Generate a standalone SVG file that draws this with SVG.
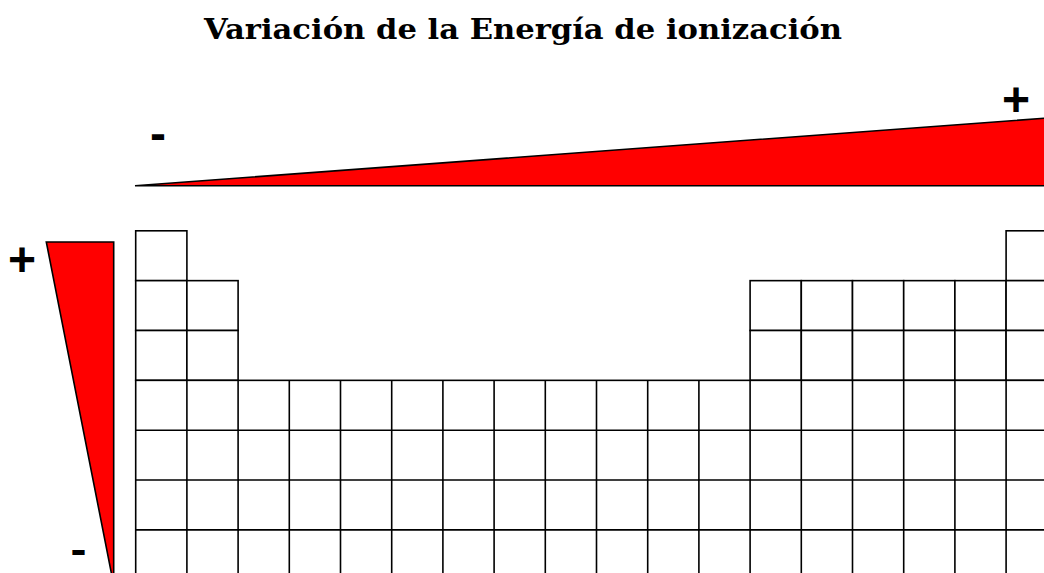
<svg xmlns="http://www.w3.org/2000/svg" width="1044" height="573" viewBox="0 0 1044 573">
<style>
.cell{fill:#fff;stroke:#000;stroke-width:1.6}
.wedge{fill:#ff0000;stroke:#000;stroke-width:1.6;stroke-linejoin:miter}
.sign{font-family:"Liberation Sans",Arial,sans-serif;font-weight:bold;font-size:48px;fill:#000}
.title{font-family:"DejaVu Serif",Georgia,serif;font-weight:bold;font-size:27px;fill:#000}
</style>
<rect width="1044" height="573" fill="#fff"/>
<g id="title"><text class="title" x="523" y="39" text-anchor="middle" textLength="638" lengthAdjust="spacingAndGlyphs">Variación de la Energía de ionización</text></g>
<g id="top-wedge">
<polygon class="wedge" points="135,185.7 1052,117.7 1052,185.7"/>
<text class="sign" x="158" y="150" text-anchor="middle">-</text>
<text class="sign" x="1016" y="116" text-anchor="middle">+</text>
</g>
<g id="left-wedge">
<polygon class="wedge" points="46.3,242 113.7,242 113.7,585"/>
<text class="sign" x="22" y="276" text-anchor="middle">+</text>
<text class="sign" x="78.5" y="563.5" text-anchor="middle" style="font-size:42px" textLength="16" lengthAdjust="spacingAndGlyphs">-</text>
</g>
<g id="table">
<rect class="cell" x="135.7" y="230.8" width="51.2" height="49.85"/>
<rect class="cell" x="1006.1" y="230.8" width="51.2" height="49.85"/>
<g id="row2">
<rect class="cell" x="135.7" y="280.65" width="51.2" height="49.85"/>
<rect class="cell" x="186.9" y="280.65" width="51.2" height="49.85"/>
<rect class="cell" x="750.1" y="280.65" width="51.2" height="49.85"/>
<rect class="cell" x="801.3" y="280.65" width="51.2" height="49.85"/>
<rect class="cell" x="852.5" y="280.65" width="51.2" height="49.85"/>
<rect class="cell" x="903.7" y="280.65" width="51.2" height="49.85"/>
<rect class="cell" x="954.9" y="280.65" width="51.2" height="49.85"/>
<rect class="cell" x="1006.1" y="280.65" width="51.2" height="49.85"/>
</g>
<g id="row3">
<rect class="cell" x="135.7" y="330.5" width="51.2" height="49.85"/>
<rect class="cell" x="186.9" y="330.5" width="51.2" height="49.85"/>
<rect class="cell" x="750.1" y="330.5" width="51.2" height="49.85"/>
<rect class="cell" x="801.3" y="330.5" width="51.2" height="49.85"/>
<rect class="cell" x="852.5" y="330.5" width="51.2" height="49.85"/>
<rect class="cell" x="903.7" y="330.5" width="51.2" height="49.85"/>
<rect class="cell" x="954.9" y="330.5" width="51.2" height="49.85"/>
<rect class="cell" x="1006.1" y="330.5" width="51.2" height="49.85"/>
</g>
<g id="rows4to7" stroke="#000" stroke-width="1.6" fill="none">
<rect x="135.7" y="380.35" width="921.6" height="199.4" fill="#fff"/>
<path d="M135.7 430.2H1057.3M135.7 480.05H1057.3M135.7 529.9H1057.3M186.9 380.35V579.75M238.1 380.35V579.75M289.3 380.35V579.75M340.5 380.35V579.75M391.7 380.35V579.75M442.9 380.35V579.75M494.1 380.35V579.75M545.3 380.35V579.75M596.5 380.35V579.75M647.7 380.35V579.75M698.9 380.35V579.75M750.1 380.35V579.75M801.3 380.35V579.75M852.5 380.35V579.75M903.7 380.35V579.75M954.9 380.35V579.75M1006.1 380.35V579.75"/>
</g>
</g>
</svg>
